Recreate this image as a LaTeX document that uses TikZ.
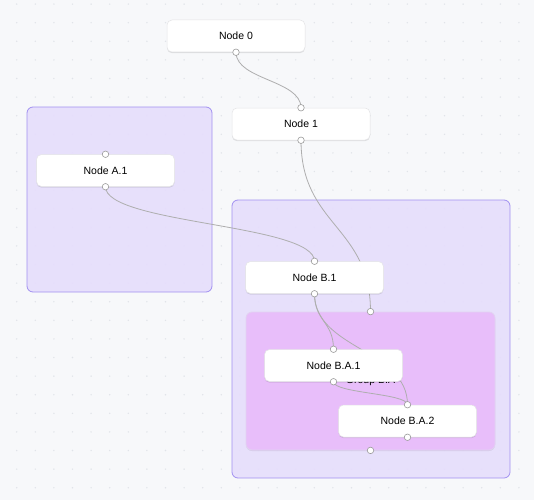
\documentclass[tikz,border=0pt]{standalone}
\usepackage{fontspec}
\setmainfont{Liberation Sans}
\usetikzlibrary{calc,shadows}
\definecolor{bgc}{HTML}{F7F8FA}
\definecolor{dotc}{HTML}{E1E4E9}
\definecolor{grpfill}{HTML}{E6DEFC}
\definecolor{grpline}{HTML}{A190F1}
\definecolor{subfill}{HTML}{E8BEFA}
\definecolor{subline}{HTML}{E2D2F2}
\definecolor{nodeline}{HTML}{E4E4E6}
\definecolor{edgec}{HTML}{AEAEAE}
\definecolor{handlec}{HTML}{9A9A9A}
\pgfdeclarelayer{groups}
\pgfdeclarelayer{edges}
\pgfsetlayers{groups,edges,main}
\tikzset{
  flownode/.style={draw=nodeline, line width=0.5pt, fill=white, rounded corners=5pt,
    minimum width=138pt, minimum height=32pt, inner sep=0pt,
    font=\fontsize{10.5}{12}\selectfont,
    drop shadow={shadow xshift=0pt, shadow yshift=-1.2pt, opacity=0.10, fill=black}},
  grpbox/.style={draw=grpline, line width=0.8pt, fill=grpfill, rounded corners=6pt, inner sep=0pt},
  subbox/.style={draw=subline, line width=0.8pt, fill=subfill, rounded corners=6pt, inner sep=0pt,
    font=\fontsize{10.5}{12}\selectfont},
  edge/.style={draw=edgec, line width=0.8pt},
  handle/.style={circle, draw=handlec, fill=white, line width=0.6pt, minimum size=6.5pt, inner sep=0pt}
}
\newcommand\flowedge[2]{%
  \coordinate (fm) at ($(#1)!0.5!(#2)$);
  \draw[edge] (#1) .. controls (#1 |- fm) and (#2 |- fm) .. (#2);}
\begin{document}
\begin{tikzpicture}[x=1pt,y=-1pt]
\useasboundingbox (0,0) rectangle (534,500);
\begin{pgfonlayer}{groups}
  \fill[bgc] (0,0) rectangle (534,500);
  \foreach \i in {0,...,28} {
    \foreach \j in {0,...,26} {
      \fill[dotc] ({16.7+18.6*\i},{4.1+18.6*\j}) circle (0.8pt);
    }
  }
  \node[grpbox, minimum width=185pt, minimum height=185pt, fill opacity=0.92] (gA) at (119.5,199.5) {};
  \node[grpbox, minimum width=278pt, minimum height=278pt, fill opacity=0.92] (gB) at (371,339) {};
  \node[subbox, minimum width=249pt, minimum height=138pt,
    drop shadow={shadow xshift=0pt, shadow yshift=-1pt, opacity=0.08, fill=black}] (gBA) at (370.5,381) {Group B.A};
\end{pgfonlayer}

\node[flownode] (n0) at (236,36) {Node 0};
\node[flownode] (n1) at (301,124) {Node 1};
\node[flownode] (a1) at (105.5,170.5) {Node A.1};
\node[flownode] (b1) at (314.5,277.5) {Node B.1};
\node[flownode] (ba1) at (333.5,365.5) {Node B.A.1};
\node[flownode] (ba2) at (407.5,421) {Node B.A.2};

\begin{pgfonlayer}{edges}
  \flowedge{n0.south}{n1.north}
  \flowedge{n1.south}{gBA.north}
  \flowedge{a1.south}{b1.north}
  \flowedge{b1.south}{ba1.north}
  \flowedge{b1.south}{ba2.north}
  \flowedge{ba1.south}{ba2.north}
\end{pgfonlayer}

\node[handle] (h0s) at (n0.south) {};
\node[handle] (h1n) at (n1.north) {};
\node[handle] (h1s) at (n1.south) {};
\node[handle] (ha1n) at (a1.north) {};
\node[handle] (ha1s) at (a1.south) {};
\node[handle] (hb1n) at (b1.north) {};
\node[handle] (hb1s) at (b1.south) {};
\node[handle] (hba1n) at (ba1.north) {};
\node[handle] (hba1s) at (ba1.south) {};
\node[handle] (hba2n) at (ba2.north) {};
\node[handle] (hba2s) at (ba2.south) {};
\node[handle] (hgn) at (gBA.north) {};
\node[handle] (hgs) at (gBA.south) {};
\end{tikzpicture}
\end{document}
